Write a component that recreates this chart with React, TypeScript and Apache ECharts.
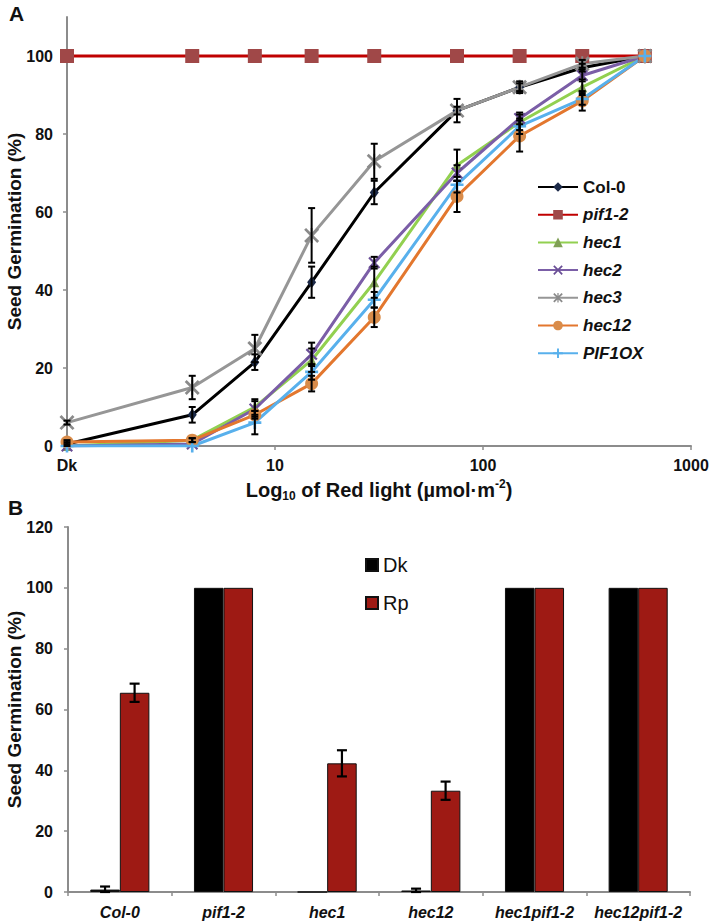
import React, { useEffect, useRef } from 'react';
import * as echarts from 'echarts';

// ---------- Panel A data ----------
const lightDoses = [1, 4, 8, 15, 30, 75, 150, 300, 600];
const col0 = [0.5, 8, 21.5, 42, 65, 86, 92, 97, 100];
const pif12 = [100, 100, 100, 100, 100, 100, 100, 100, 100];
const hec1 = [0, 1.5, 10, 22, 42, 72, 83, 92, 100];
const hec2 = [0, 0.5, 9.5, 23.5, 47, 70, 84, 95, 100];
const hec3 = [6, 15, 25, 54, 73, 86, 92, 98, 100];
const hec12 = [1, 1.5, 8, 16, 33, 64, 79.5, 88.5, 100];
const pif1ox = [0, 0, 6, 19, 37.5, 67, 82, 89, 100];

const col0Err = [0.5, 2, 2, 4, 3, 3, 1.5, 1, 0];
const pif12Err = [0, 0, 0, 0, 0, 0, 0, 0, 0];
const hec1Err = [0, 0.5, 2, 3, 4, 4, 2, 2, 0];
const hec2Err = [0, 0, 2, 3, 1.5, 2, 1.5, 1.5, 0];
const hec3Err = [0.5, 3, 3.5, 7, 4.5, 1, 1, 1, 0];
const hec12Err = [0.5, 0.5, 1, 2, 2.5, 4, 4, 2.5, 0];
const pif1oxErr = [0, 0, 3, 2, 2, 2, 2, 1.5, 0];

const xTickLabels: Record<string, string> = { '1': 'Dk', '10': '10', '100': '100', '1000': '1000' };
const yTicksA = [0, 20, 40, 60, 80, 100];

// ---------- Panel B data ----------
const genotypes = ['Col-0', 'pif1-2', 'hec1', 'hec12', 'hec1pif1-2', 'hec12pif1-2'];
const dkValues = [0.8, 100, 0, 0.5, 100, 100];
const rpValues = [65.5, 100, 42.3, 33.3, 100, 100];
const dkErr = [1, 0, 0, 0.6, 0, 0];
const rpErr = [3, 0, 4.3, 3, 0, 0];

const FONT = 'Liberation Sans, Arial, sans-serif';

const plusPath = 'path://M4,0H6V4H10V6H6V10H4V6H0V4H4Z';
const xPath = 'path://M0,1.3L1.3,0L5,3.7L8.7,0L10,1.3L6.3,5L10,8.7L8.7,10L5,6.3L1.3,10L0,8.7L3.7,5Z';
const starPath = 'path://M0,1.3L1.3,0L5,3.7L8.7,0L10,1.3L6.3,5L10,8.7L8.7,10L5,6.3L1.3,10L0,8.7L3.7,5Z M4.35,0H5.65V10H4.35Z';

const lineDefs = [
  { name: 'Col-0', y: col0, err: col0Err, color: '#000000', mColor: '#1c2a48', symbol: 'diamond', size: [9, 12] },
  { name: 'pif1-2', y: pif12, err: pif12Err, color: '#c00000', mColor: '#a04848', symbol: 'rect', size: 14 },
  { name: 'hec1', y: hec1, err: hec1Err, color: '#92d050', mColor: '#7f9f55', symbol: 'triangle', size: 10 },
  { name: 'hec2', y: hec2, err: hec2Err, color: '#7b5ea7', mColor: '#6a4f96', symbol: xPath, size: 12 },
  { name: 'hec3', y: hec3, err: hec3Err, color: '#969696', mColor: '#8a8a8a', symbol: starPath, size: 15 },
  { name: 'hec12', y: hec12, err: hec12Err, color: '#e3772e', mColor: '#d98c4a', symbol: 'circle', size: 13 },
  { name: 'PIF1OX', y: pif1ox, err: pif1oxErr, color: '#58b0ec', mColor: '#58b0ec', symbol: plusPath, size: 13 },
];

export default function App() {
  const ref = useRef<HTMLDivElement>(null);
  useEffect(() => {
    if (!ref.current) return;
    const chart = echarts.init(ref.current, undefined, { renderer: 'svg' });

    const errRowsA: number[][] = [];
    lineDefs.forEach((d) => {
      d.y.forEach((v, i) => {
        if (d.err[i] > 0) errRowsA.push([lightDoses[i], Math.max(0, v - d.err[i]), v + d.err[i]]);
      });
    });
    const errRowsB: number[][] = [];
    genotypes.forEach((_, i) => {
      if (dkErr[i] > 0) errRowsB.push([i, Math.max(0, dkValues[i] - dkErr[i]), dkValues[i] + dkErr[i], 0]);
      if (rpErr[i] > 0) errRowsB.push([i, rpValues[i] - rpErr[i], rpValues[i] + rpErr[i], 1]);
    });

    const axisGray = '#8c8c8c';
    const lineSeries = lineDefs.map((d) => ({
      type: 'line',
      name: d.name,
      xAxisIndex: 0,
      yAxisIndex: 0,
      data: d.y.map((v, i) => [lightDoses[i], v]),
      symbol: d.symbol,
      symbolSize: d.size,
      lineStyle: { color: d.color, width: 3 },
      itemStyle: { color: d.mColor },
      z: 3,
    }));

    const yNameStyle = { color: '#111', fontSize: 19, fontWeight: 'bold', fontFamily: FONT };

    const option: any = {
      animation: false,
      textStyle: { fontFamily: FONT },
      grid: [
        { left: 67, right: 20, top: 17, bottom: 476, containLabel: false, outerBoundsMode: 'none' },
        { left: 68, right: 21, top: 527, bottom: 30, containLabel: false, outerBoundsMode: 'none' },
      ],
      xAxis: [
        {
          type: 'log',
          gridIndex: 0,
          logBase: 10,
          min: 1,
          max: 1000,
          axisLine: { lineStyle: { color: axisGray, width: 2 } },
          axisTick: { show: true, length: 4, inside: false, lineStyle: { color: axisGray, width: 1.5 } },
          minorTick: { show: false },
          splitLine: { show: false },
          axisLabel: {
            margin: 11,
            color: '#111',
            fontSize: 16,
            fontWeight: 'bold',
            fontFamily: FONT,
            formatter: (v: number) => xTickLabels[String(Math.round(v))] ?? '',
          },
          name: 'Log{sub|10} of Red light (µmol·m{sup|-2})',
          nameLocation: 'middle',
          nameMoveOverlap: false,
          nameGap: 32,
          nameTextStyle: {
            color: '#111',
            fontSize: 20,
            fontWeight: 'bold',
            fontFamily: FONT,
            lineHeight: 24,
            rich: {
              sub: { fontSize: 12, fontWeight: 'bold', fontFamily: FONT, color: '#111', verticalAlign: 'bottom', lineHeight: 24, padding: [9, 0, 0, 0] },
              sup: { fontSize: 12, fontWeight: 'bold', fontFamily: FONT, color: '#111', verticalAlign: 'top', lineHeight: 24, padding: [0, 0, 9, 0] },
            },
          },
        },
        {
          type: 'category',
          gridIndex: 1,
          data: genotypes,
          axisLine: { lineStyle: { color: axisGray, width: 2 } },
          axisTick: { show: true, length: 4, lineStyle: { color: axisGray, width: 1.5 } },
          axisLabel: {
            margin: 12,
            color: '#111',
            fontSize: 16,
            fontWeight: 'bold',
            fontStyle: 'italic',
            fontFamily: FONT,
            interval: 0,
          },
        },
      ],
      yAxis: [
        {
          type: 'value',
          gridIndex: 0,
          min: 0,
          max: 110,
          interval: 20,
          axisLine: { show: true, lineStyle: { color: axisGray, width: 2 } },
          axisTick: { show: true, length: 4, customValues: yTicksA, lineStyle: { color: axisGray, width: 1.5 } },
          splitLine: { show: false },
          axisLabel: {
            customValues: yTicksA,
            margin: 14,
            color: '#111',
            fontSize: 16,
            fontWeight: 'bold',
            fontFamily: FONT,
          },
          name: 'Seed Germination (%)',
          nameLocation: 'middle',
          nameMoveOverlap: false,
          nameGap: 43,
          nameTextStyle: yNameStyle,
        },
        {
          type: 'value',
          gridIndex: 1,
          min: 0,
          max: 120,
          interval: 20,
          axisLine: { show: true, lineStyle: { color: axisGray, width: 2 } },
          axisTick: { show: true, length: 4, lineStyle: { color: axisGray, width: 1.5 } },
          splitLine: { show: false },
          axisLabel: {
            margin: 15,
            color: '#111',
            fontSize: 16,
            fontWeight: 'bold',
            fontFamily: FONT,
          },
          name: 'Seed Germination (%)',
          nameLocation: 'middle',
          nameMoveOverlap: false,
          nameGap: 44,
          nameTextStyle: yNameStyle,
        },
      ],
      legend: [
        {
          data: lineDefs.map((d) => d.name),
          orient: 'vertical',
          left: 537,
          top: 178,
          itemWidth: 40,
          itemHeight: 12,
          itemGap: 9.7,
          itemTextGap: 6,
          padding: 0,
          formatter: (n: string) => (n === 'Col-0' ? `{n|${n}}` : `{i|${n}}`),
          textStyle: {
            fontFamily: FONT,
            lineHeight: 18,
            rich: {
              n: { fontSize: 17, fontWeight: 'bold', color: '#111', fontFamily: FONT, lineHeight: 18 },
              i: { fontSize: 17, fontWeight: 'bold', fontStyle: 'italic', color: '#111', fontFamily: FONT, lineHeight: 18 },
            },
          },
        },
        {
          data: ['Dk', 'Rp'],
          orient: 'vertical',
          left: 365,
          top: 554,
          itemWidth: 12,
          itemHeight: 12,
          itemGap: 16,
          itemTextGap: 3,
          padding: 0,
          icon: 'rect',
          textStyle: { fontFamily: FONT, fontSize: 20, color: '#111', lineHeight: 22 },
        },
      ],
      graphic: [
        { type: 'text', left: 9, top: 3, style: { text: 'A', fontSize: 21, fontWeight: 'bold', fontFamily: FONT, fill: '#111' } },
        { type: 'text', left: 8, top: 497, style: { text: 'B', fontSize: 21, fontWeight: 'bold', fontFamily: FONT, fill: '#111' } },
      ],
      series: [
        ...lineSeries,
        {
          type: 'custom',
          name: 'errA',
          xAxisIndex: 0,
          yAxisIndex: 0,
          data: errRowsA,
          encode: { x: 0, y: [1, 2] },
          z: 4,
          renderItem: (_p: any, api: any) => {
            const x = api.value(0);
            const p1 = api.coord([x, api.value(1)]);
            const p2 = api.coord([x, api.value(2)]);
            const w = 3.5;
            const st = { stroke: '#000', lineWidth: 2 };
            return {
              type: 'group',
              children: [
                { type: 'line', shape: { x1: p1[0], y1: p1[1], x2: p2[0], y2: p2[1] }, style: st },
                { type: 'line', shape: { x1: p1[0] - w, y1: p1[1], x2: p1[0] + w, y2: p1[1] }, style: st },
                { type: 'line', shape: { x1: p2[0] - w, y1: p2[1], x2: p2[0] + w, y2: p2[1] }, style: st },
              ],
            };
          },
        },
        {
          type: 'bar',
          name: 'Dk',
          xAxisIndex: 1,
          yAxisIndex: 1,
          data: dkValues,
          barGap: '0%',
          barCategoryGap: '43%',
          itemStyle: { color: '#000000', borderColor: '#111', borderWidth: 1 },
        },
        {
          type: 'bar',
          name: 'Rp',
          xAxisIndex: 1,
          yAxisIndex: 1,
          data: rpValues,
          barGap: '0%',
          barCategoryGap: '43%',
          itemStyle: { color: '#9e1a14', borderColor: '#111', borderWidth: 1 },
        },
        {
          type: 'custom',
          name: 'errB',
          xAxisIndex: 1,
          yAxisIndex: 1,
          data: errRowsB,
          encode: { x: 0, y: [1, 2] },
          z: 5,
          renderItem: (_p: any, api: any) => {
            const c = api.value(0);
            const p1 = api.coord([c, api.value(1)]);
            const p2 = api.coord([c, api.value(2)]);
            const catW = api.size([1, 0])[0];
            const barW = (catW * (1 - 0.43)) / 2;
            const dx = api.value(3) === 0 ? -barW / 2 : barW / 2;
            const x = p1[0] + dx;
            const w = 5;
            const st = { stroke: '#000', lineWidth: 2.2 };
            return {
              type: 'group',
              children: [
                { type: 'line', shape: { x1: x, y1: p1[1], x2: x, y2: p2[1] }, style: st },
                { type: 'line', shape: { x1: x - w, y1: p1[1], x2: x + w, y2: p1[1] }, style: st },
                { type: 'line', shape: { x1: x - w, y1: p2[1], x2: x + w, y2: p2[1] }, style: st },
              ],
            };
          },
        },
      ],
    };

    chart.setOption(option);
    return () => chart.dispose();
  }, []);

  return <div ref={ref} style={{ position: 'absolute', left: 0, top: 0, width: 711, height: 922, background: '#fff' }} />;
}
